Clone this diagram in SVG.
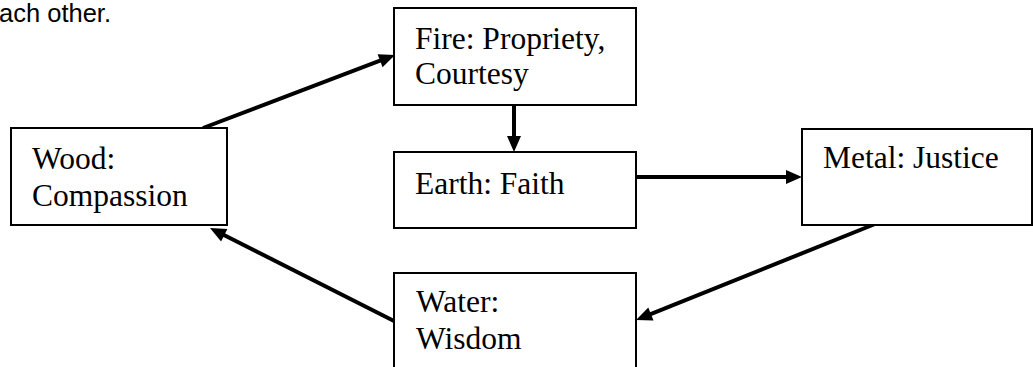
<svg xmlns="http://www.w3.org/2000/svg" width="1033" height="367" viewBox="0 0 1033 367">
<style>
.box{fill:#fff;stroke:#000;stroke-width:2}
.lbl{font-family:"Liberation Serif","Times New Roman",serif;font-size:31.5px;fill:#000}
.cap{font-family:"Liberation Sans",Arial,sans-serif;font-size:25.5px;fill:#000}
.edge{stroke:#000;stroke-width:4;fill:none;marker-end:url(#ah)}
</style>
<defs>
<marker id="ah" markerUnits="userSpaceOnUse" markerWidth="16" markerHeight="14" refX="7" refY="7" orient="auto" overflow="visible">
<path d="M0,0 L16,7 L0,14 z" fill="#000"/>
</marker>
</defs>
<rect width="1033" height="367" fill="#fff"/>
<text class="cap" x="-1" y="22">ach other.</text>
<g id="connectors">
<line class="edge" x1="203" y1="128" x2="386.6" y2="58.2"/>
<line class="edge" x1="514" y1="105" x2="514" y2="143"/>
<line class="edge" x1="636" y1="177" x2="793" y2="177"/>
<line class="edge" x1="875" y1="224" x2="644.4" y2="316.6"/>
<line class="edge" x1="394" y1="321" x2="218" y2="232"/>
</g>
<g id="fire">
<rect class="box" x="394" y="8" width="242" height="97"/>
<text class="lbl" x="415" y="49">Fire: Propriety,</text>
<text class="lbl" x="415" y="84">Courtesy</text>
</g>
<g id="earth">
<rect class="box" x="394" y="152" width="242" height="76"/>
<text class="lbl" x="415" y="194">Earth: Faith</text>
</g>
<g id="wood">
<rect class="box" x="11" y="128" width="216" height="97"/>
<text class="lbl" x="32" y="169">Wood:</text>
<text class="lbl" x="32" y="206">Compassion</text>
</g>
<g id="metal">
<rect class="box" x="802" y="129" width="230" height="96"/>
<text class="lbl" x="823" y="168">Metal: Justice</text>
</g>
<g id="water">
<rect class="box" x="394" y="273" width="242" height="110"/>
<text class="lbl" x="416" y="312">Water:</text>
<text class="lbl" x="416" y="349">Wisdom</text>
</g>
</svg>
